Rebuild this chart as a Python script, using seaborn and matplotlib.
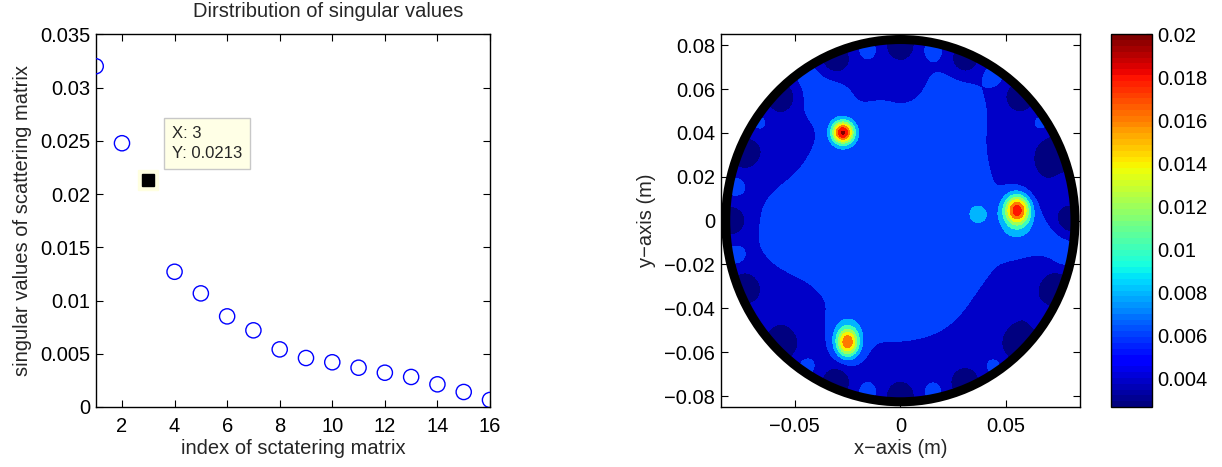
import numpy as np
import pandas as pd
import matplotlib
matplotlib.use("Agg")
import matplotlib.pyplot as plt
from matplotlib.colors import ListedColormap, Normalize
from matplotlib.patches import Circle
import seaborn as sns

# ---------------- data ----------------
sv_index = [1, 2, 3, 4, 5, 6, 7, 8, 9, 10, 11, 12, 13, 14, 15, 16]
sv_values = [0.0320, 0.02477, 0.0213, 0.0127, 0.01067, 0.00851, 0.0072, 0.00541,
             0.0046, 0.0042, 0.00369, 0.00322, 0.00282, 0.00213, 0.00141, 0.00066]
tip_index = 3
tip_value = 0.0213

left_xticks = [2, 4, 6, 8, 10, 12, 14, 16]
left_yticks = [0, 0.005, 0.01, 0.015, 0.02, 0.025, 0.03, 0.035]
left_yticklabels = ["0", "0.005", "0.01", "0.015", "0.02", "0.025", "0.03", "0.035"]

# imaging field: targets (peaks)
target_x = [-0.0272, 0.0553, -0.0250]
target_y = [0.0402, 0.0050, -0.0557]
target_amp = [0.0140, 0.0128, 0.0112]
target_sx = [0.0036, 0.0042, 0.0037]
target_sy = [0.0036, 0.0048, 0.0045]

# background structures (broad blobs)
bg_level = 0.0044
blob_x = [-0.003, -0.037, 0.025, 0.003, 0.068, 0.062, 0.074, -0.058, 0.037, 0.055, -0.025, -0.060, -0.050]
blob_y = [0.000, 0.057, 0.056, 0.063, 0.024, -0.047, -0.008, -0.045, 0.003, -0.004, -0.049, 0.036, -0.006]
blob_amp = [0.0028, 0.0016, 0.0010, -0.0012, -0.0014, -0.0013, 0.0013, -0.0010, 0.0021, 0.0018, 0.0016, -0.0008, 0.0011]
blob_s = [0.052, 0.007, 0.012, 0.005, 0.012, 0.014, 0.008, 0.014, 0.0045, 0.007, 0.006, 0.010, 0.011]

# antenna positions on the boundary (degrees) and between them
antenna_deg = [0, 22.5, 45, 67.5, 90, 112.5, 135, 157.5, 180, 202.5, 225, 247.5,
               270, 292.5, 315, 337.5]
gap_deg = [11.25, 33.75, 56.25, 78.75, 101.25, 123.75, 146.25, 168.75, 191.25,
           213.75, 236.25, 258.75, 281.25, 303.75, 326.25, 348.75]
antenna_r = 0.0795
antenna_amp = -0.0036
antenna_s = 0.0046
gap_r = 0.080
gap_amp = 0.0015
gap_s = 0.0035

domain_r = 0.085
contour_levels = [0.0, 0.004, 0.006, 0.008, 0.010, 0.012, 0.014, 0.016, 0.018, 0.020, 0.05]
cbar_min, cbar_max = 0.00265, 0.020
cbar_ticks = [0.004, 0.006, 0.008, 0.010, 0.012, 0.014, 0.016, 0.018, 0.020]
cbar_ticklabels = ["0.004", "0.006", "0.008", "0.01", "0.012", "0.014", "0.016", "0.018", "0.02"]
right_xticks = [-0.05, 0, 0.05]
right_xticklabels = ["\u22120.05", "0", "0.05"]
right_yticks = [-0.08, -0.06, -0.04, -0.02, 0, 0.02, 0.04, 0.06, 0.08]
right_yticklabels = ["\u22120.08", "\u22120.06", "\u22120.04", "\u22120.02", "0",
                     "0.02", "0.04", "0.06", "0.08"]

# ---------------- style ----------------
sns.set_theme(style="ticks")
plt.rcParams["font.family"] = ["Liberation Sans", "DejaVu Sans"]
plt.rcParams["axes.linewidth"] = 1.0
FS = 14.5

W, H = 1222, 467
fig = plt.figure(figsize=(W / 100, H / 100), dpi=100)

def fx(px):
    return px / W

def fy(py):
    return 1 - py / H

axL = fig.add_axes([fx(95.7), fy(407), fx(490 - 95.7), (407 - 34.3) / H])
axR = fig.add_axes([fx(720.7), fy(407), fx(1080 - 720.7), (407 - 34.3) / H])
cax = fig.add_axes([fx(1111), fy(407), fx(1152 - 1111), (407 - 34.3) / H])

# ---------------- left panel ----------------
df = pd.DataFrame({"index": sv_index, "value": sv_values})
df_pts = df[df["index"] != tip_index]
sns.scatterplot(data=df_pts, x="index", y="value", ax=axL, marker="o", s=120,
                facecolor="none", edgecolor="#0000ff", linewidth=1.0, zorder=3)
# datatip
axL.plot([tip_index], [tip_value], marker="s", markersize=15, color="#ffffe0",
         markeredgecolor="#ffffe0", linestyle="none", zorder=3, clip_on=False)
axL.plot([tip_index], [tip_value], marker="s", markersize=9, color="black",
         linestyle="none", zorder=4, clip_on=False)
axL.text(3.9, 0.02640, f"X: {tip_index}\nY: {tip_value}", fontsize=12, va="top", ha="left",
         linespacing=1.45, zorder=5,
         bbox=dict(boxstyle="square,pad=0.45", fc="#ffffe6", ec="#c8c8c8", lw=1))

axL.set_xlim(1, 16)
axL.set_ylim(0, 0.035)
axL.set_xticks(left_xticks)
axL.set_xticklabels([str(t) for t in left_xticks])
axL.set_yticks(left_yticks)
axL.set_yticklabels(left_yticklabels)
axL.tick_params(direction="in", length=5, width=0.8, labelsize=FS, top=True, right=True,
                colors="black")
axL.tick_params(axis="x", pad=7)
axL.tick_params(axis="y", pad=4)
axL.set_xlabel("index of sctatering matrix", fontsize=FS, labelpad=2)
axL.set_ylabel("singular values of scattering matrix", fontsize=FS, labelpad=6)
for sp in axL.spines.values():
    sp.set_visible(True)
    sp.set_color("black")
fig.text(fx(328), fy(17), "Dirstribution of singular values", fontsize=FS,
         ha="center", va="baseline")

# ---------------- right panel ----------------
g = np.linspace(-domain_r, domain_r, 500)
X, Y = np.meshgrid(g, g)
Z = np.full_like(X, bg_level)
for bx, by, ba, bs in zip(blob_x, blob_y, blob_amp, blob_s):
    Z += ba * np.exp(-((X - bx) ** 2 + (Y - by) ** 2) / (2 * bs ** 2))
for d in antenna_deg:
    t = np.deg2rad(d)
    Z += antenna_amp * np.exp(-((X - antenna_r * np.cos(t)) ** 2 + (Y - antenna_r * np.sin(t)) ** 2)
                              / (2 * antenna_s ** 2))
for d in gap_deg:
    t = np.deg2rad(d)
    Z += gap_amp * np.exp(-((X - gap_r * np.cos(t)) ** 2 + (Y - gap_r * np.sin(t)) ** 2)
                          / (2 * gap_s ** 2))
for tx, ty, ta, sx, sy in zip(target_x, target_y, target_amp, target_sx, target_sy):
    Z += ta * np.exp(-((X - tx) ** 2 / (2 * sx ** 2) + (Y - ty) ** 2 / (2 * sy ** 2)))

jet64 = ListedColormap(plt.get_cmap("jet")(np.linspace(0, 1, 64)))
norm = Normalize(vmin=cbar_min, vmax=cbar_max)
fill_colors = [jet64(norm(max(lv, cbar_min))) for lv in contour_levels[:-1]]

cs = axR.contourf(X, Y, Z, levels=contour_levels, colors=fill_colors, antialiased=False)
clip = Circle((0, 0), domain_r * 0.972, transform=axR.transData, facecolor="none", edgecolor="none")
axR.add_patch(clip)
cs.set_clip_path(clip)
ring = Circle((0, 0), domain_r * 0.972, fill=False, edgecolor="black", lw=6.5, zorder=5,
              clip_on=False)
axR.add_patch(ring)

axR.set_xlim(-domain_r, domain_r)
axR.set_ylim(-domain_r, domain_r)
axR.set_xticks(right_xticks)
axR.set_xticklabels(right_xticklabels)
axR.set_yticks(right_yticks)
axR.set_yticklabels(right_yticklabels)
axR.tick_params(direction="in", length=5, width=0.8, labelsize=FS, top=True, right=True,
                colors="black")
axR.tick_params(axis="x", pad=7)
axR.tick_params(axis="y", pad=4)
axR.set_xlabel("x\u2212axis (m)", fontsize=FS, labelpad=2)
axR.set_ylabel("y\u2212axis (m)", fontsize=FS, labelpad=6)
for sp in axR.spines.values():
    sp.set_visible(True)
    sp.set_color("black")

# ---------------- colorbar ----------------
sm = plt.cm.ScalarMappable(norm=norm, cmap=jet64)
cb = fig.colorbar(sm, cax=cax)
cb.set_ticks(cbar_ticks)
cb.set_ticklabels(cbar_ticklabels)
cax.tick_params(direction="in", length=4, width=0.8, labelsize=FS, colors="black", pad=4)
cb.outline.set_edgecolor("black")
cb.outline.set_linewidth(1.0)

fig.savefig("out.png", dpi=100)
